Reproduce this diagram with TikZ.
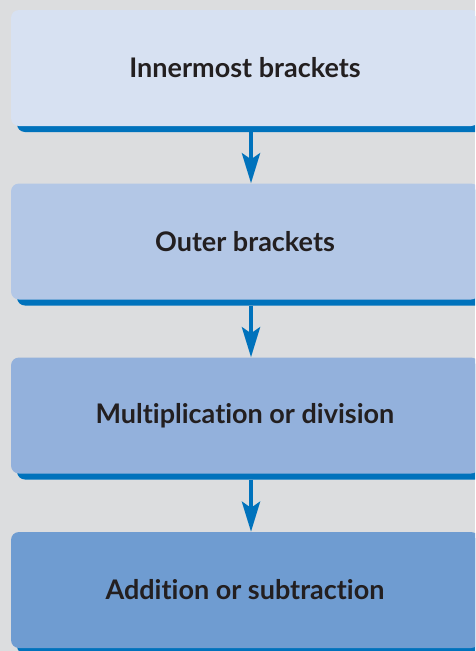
\documentclass[tikz,border=0pt]{standalone}
\usepackage{fontspec}
\setmainfont[Ligatures={NoCommon,NoRare}]{Lato}
\usetikzlibrary{arrows.meta,shadows}

\definecolor{pagegrey}{HTML}{DCDDDF}
\definecolor{flowblue}{HTML}{0072BC}
\definecolor{tintA}{HTML}{D7E1F2}
\definecolor{tintB}{HTML}{B3C7E6}
\definecolor{tintC}{HTML}{93B1DC}
\definecolor{tintD}{HTML}{6F9CD1}
\definecolor{inkdark}{HTML}{231F20}

\tikzset{
  stepbox/.style={
    rounded corners=8pt,
    minimum width=468pt, minimum height=116pt,
    inner sep=0pt,
    text=inkdark,
    font=\fontsize{27}{32}\selectfont\bfseries,
    drop shadow={shadow xshift=6pt, shadow yshift=-6pt, fill=flowblue, opacity=1}
  },
  flow/.style={
    draw=flowblue, line width=4.5pt,
    -{Stealth[length=30pt, width=18pt, inset=6pt]}
  }
}

\begin{document}
\begin{tikzpicture}[x=1pt, y=-1pt]
  \useasboundingbox (0,0) rectangle (475,651);
  \clip (0,0) rectangle (475,651);
  \fill[pagegrey] (0,0) rectangle (475,651);

  \node[stepbox, fill=tintA] (b1) at (245,68)    {Innermost brackets};
  \node[stepbox, fill=tintB] (b2) at (245,241.5) {Outer brackets};
  \node[stepbox, fill=tintC] (b3) at (245,415.5) {Multiplication or division};
  \node[stepbox, fill=tintD] (b4) at (245,590)   {Addition or subtraction};

  \draw[flow] ([xshift=6pt, yshift=-6pt]b1.south) -- ([xshift=6pt]b2.north);
  \draw[flow] ([xshift=6pt, yshift=-6pt]b2.south) -- ([xshift=6pt]b3.north);
  \draw[flow] ([xshift=6pt, yshift=-6pt]b3.south) -- ([xshift=6pt]b4.north);
\end{tikzpicture}
\end{document}
